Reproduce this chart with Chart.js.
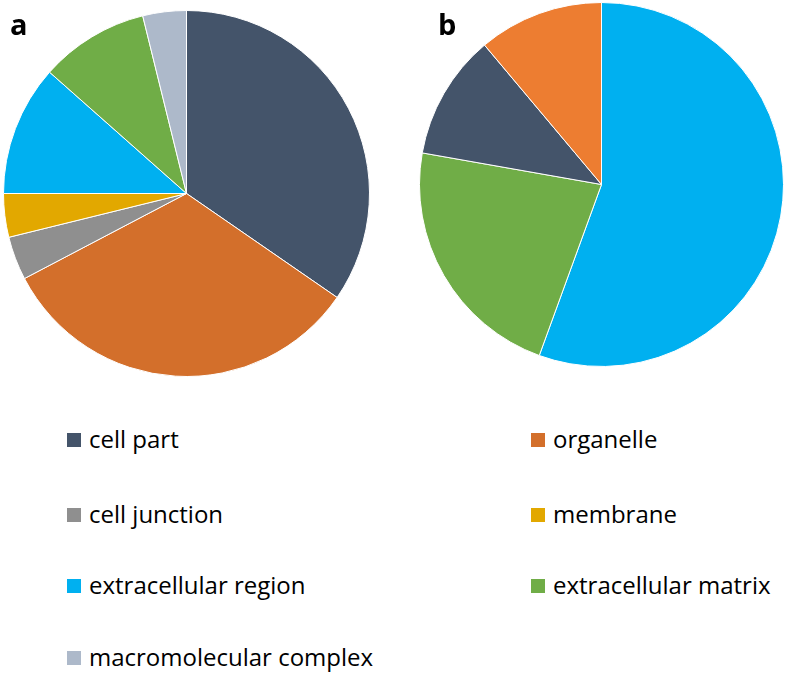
<!DOCTYPE html>
<html>
<head>
<meta charset="utf-8">
<script src="https://cdn.jsdelivr.net/npm/chart.js@4.4.0/dist/chart.umd.min.js"></script>
<style>
  html, body { margin: 0; padding: 0; background: #fff; }
  #wrap { position: relative; width: 787px; height: 675px; overflow: hidden; font-family: "Open Sans", sans-serif; }
  canvas { position: absolute; }
  .panel { position: absolute; font-family: "Open Sans", sans-serif; font-weight: bold; font-size: 29px; color: #000; line-height: 1; }
  .item { position: absolute; display: flex; align-items: center; font-size: 24px; color: #000; white-space: nowrap; }
  .sw { width: 14px; height: 14px; margin-right: 8px; flex: none; position: relative; top: 2px; }
</style>
</head>
<body>
<div id="wrap">
  <canvas id="pieA" width="367" height="367" style="left:3px;top:10px;width:367px;height:367px"></canvas>
  <canvas id="pieB" width="365" height="365" style="left:419px;top:2px;width:365px;height:365px"></canvas>
  <div class="panel" style="left:10px;top:9px">a</div>
  <div class="panel" style="left:438px;top:9px">b</div>
  <div id="legend"></div>
</div>
<script>
// ---- data ----
const categoriesA = ['cell part', 'organelle', 'cell junction', 'membrane', 'extracellular region', 'extracellular matrix', 'macromolecular complex'];
const valuesA = [18, 17, 2, 2, 6, 5, 2];
const colorsA = ['#44546A', '#D36F2B', '#8F8F8F', '#E2A800', '#00B0F0', '#70AD47', '#ADB9CA'];

const categoriesB = ['extracellular region', 'extracellular matrix', 'cell part', 'organelle'];
const valuesB = [5, 2, 1, 1];
const colorsB = ['#00B0F0', '#70AD47', '#44546A', '#ED7D31'];

const legendLabels = categoriesA;
const legendColors = colorsA;

function makePie(id, labels, values, colors) {
  return new Chart(document.getElementById(id), {
    type: 'pie',
    data: {
      labels: labels,
      datasets: [{
        data: values,
        backgroundColor: colors,
        borderColor: '#ffffff',
        borderWidth: 1
      }]
    },
    options: {
      responsive: false,
      animation: false,
      layout: { padding: 0 },
      plugins: { legend: { display: false }, tooltip: { enabled: false } }
    }
  });
}
makePie('pieA', categoriesA, valuesA, colorsA);
makePie('pieB', categoriesB, valuesB, colorsB);

// ---- legend (HTML, two columns) ----
const legend = document.getElementById('legend');
const colX = [67, 531];
const rowY = [440, 515, 586, 658];
legendLabels.forEach((lab, i) => {
  const d = document.createElement('div');
  d.className = 'item';
  d.style.left = colX[i % 2] + 'px';
  d.style.top = (rowY[Math.floor(i / 2)] - 20) + 'px';
  d.style.height = '36px';
  const s = document.createElement('span');
  s.className = 'sw';
  s.style.background = legendColors[i];
  const t = document.createElement('span');
  t.textContent = lab;
  d.appendChild(s); d.appendChild(t);
  legend.appendChild(d);
});
</script>
</body>
</html>
